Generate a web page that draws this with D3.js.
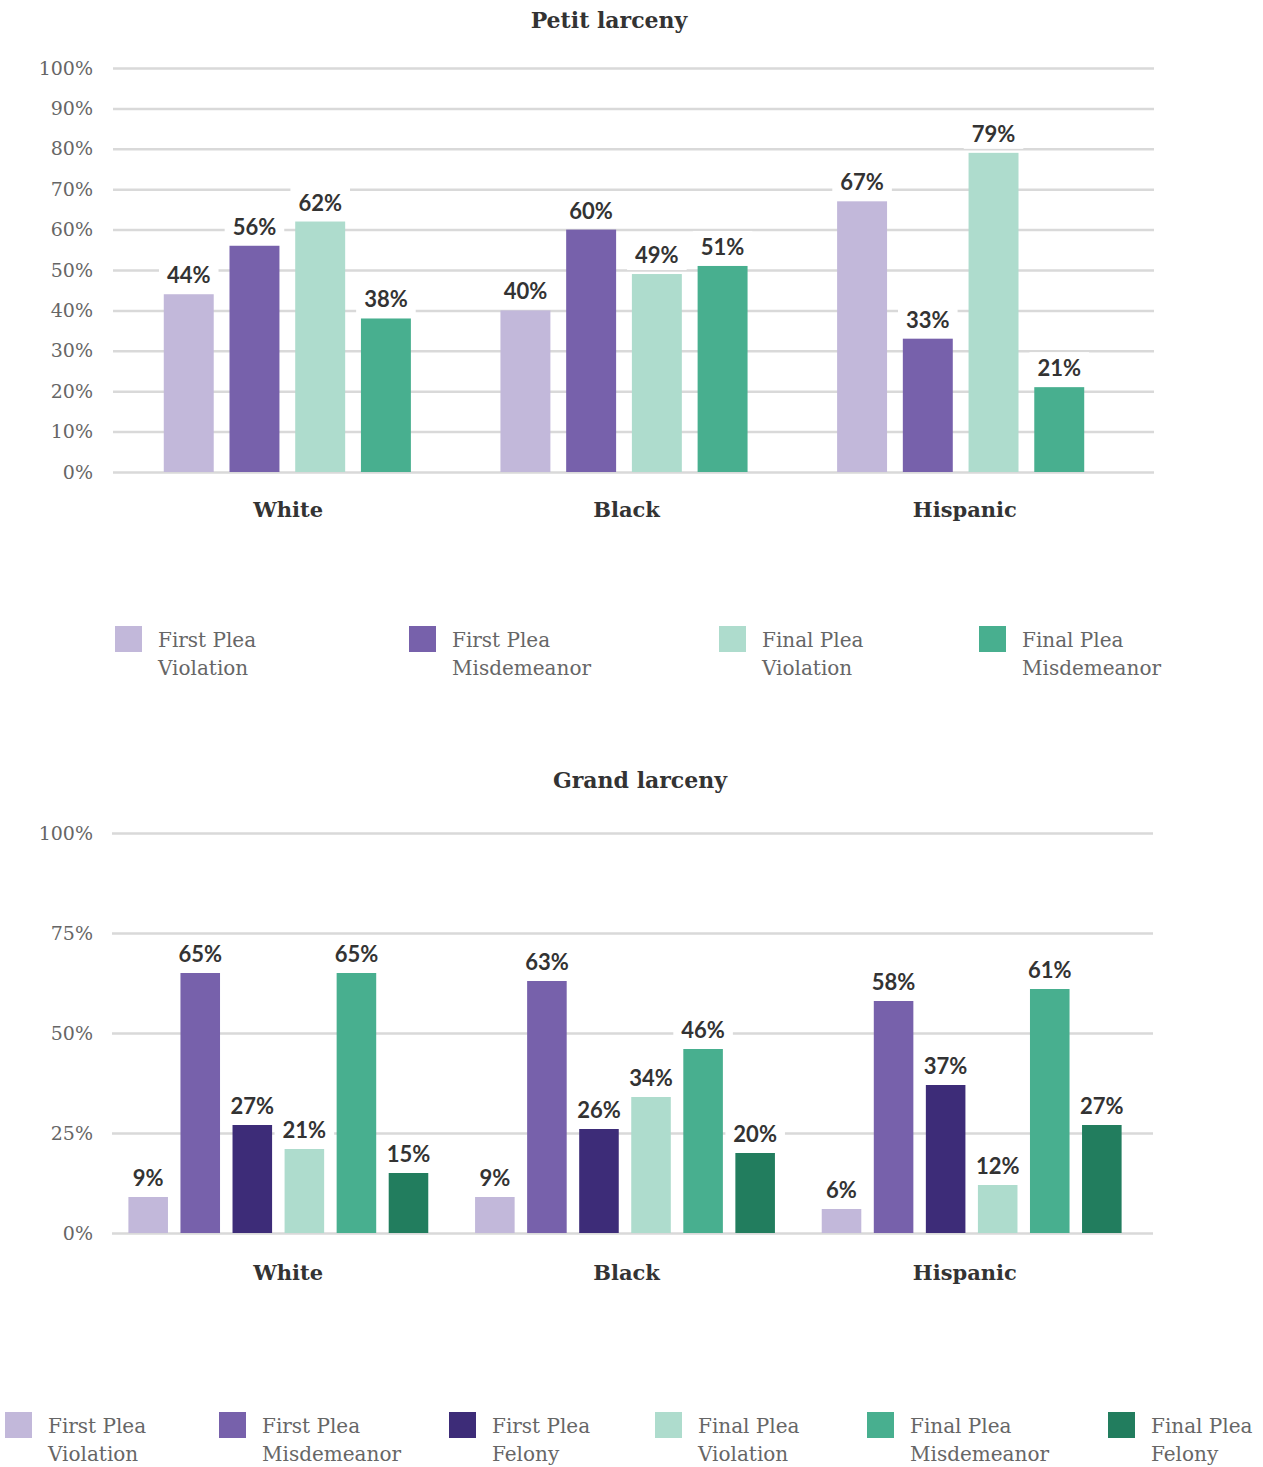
<!DOCTYPE html>
<html>
<head>
<meta charset="utf-8">
<script src="https://cdn.jsdelivr.net/npm/d3@7"></script>
<style>
  body { margin: 0; background: #fff; }
  svg { display: block; }
</style>
</head>
<body>
<svg id="chart"></svg>
<script>
// ---- Data ----
const races = ["White", "Black", "Hispanic"];

const petitSeries = ["First Plea Violation", "First Plea Misdemeanor", "Final Plea Violation", "Final Plea Misdemeanor"];
const petitWhite = [44, 56, 62, 38];
const petitBlack = [40, 60, 49, 51];
const petitHispanic = [67, 33, 79, 21];
const petitTicks = [0, 10, 20, 30, 40, 50, 60, 70, 80, 90, 100];

const grandSeries = ["First Plea Violation", "First Plea Misdemeanor", "First Plea Felony", "Final Plea Violation", "Final Plea Misdemeanor", "Final Plea Felony"];
const grandWhite = [9, 65, 27, 21, 65, 15];
const grandBlack = [9, 63, 26, 34, 46, 20];
const grandHispanic = [6, 58, 37, 12, 61, 27];
const grandTicks = [0, 25, 50, 75, 100];

const seriesColors = {
  "First Plea Violation": "#c2b8da",
  "First Plea Misdemeanor": "#7761ab",
  "First Plea Felony": "#3d2c78",
  "Final Plea Violation": "#aedccd",
  "Final Plea Misdemeanor": "#48af8f",
  "Final Plea Felony": "#227d5e"
};

// ---- Setup ----
const W = 1263, H = 1467;
const svg = d3.select("#chart").attr("width", W).attr("height", H);

const SERIF = "'DejaVu Serif', 'Liberation Serif', serif";
const SANS = "Lato, 'Open Sans', sans-serif";

// Race labels sit at the same horizontal positions in both panels
const raceLabelX = d3.scaleBand().domain(races).range([119, 1134])
  .paddingInner(0.266).paddingOuter(0.133);

function drawChart(opt) {
  const g = svg.append("g");
  const rows = races.map((r, i) => ({ race: r, values: opt.rows[i] }));

  const y = d3.scaleLinear().domain([0, 100]).range(opt.yRange);
  const x0 = d3.scaleBand().domain(races).range(opt.bandRange)
    .paddingInner(opt.padIn).paddingOuter(opt.padOut);
  const x1 = d3.scaleBand().domain(opt.series).range([0, x0.bandwidth()])
    .paddingInner(0.24).paddingOuter(0);

  // Title
  g.append("text")
    .attr("x", opt.titleX).attr("y", opt.titleY)
    .attr("text-anchor", "middle")
    .attr("font-family", SERIF).attr("font-weight", "bold")
    .attr("font-size", 22).attr("fill", "#333")
    .text(opt.title);

  // Gridlines + tick labels via a left axis
  const axis = d3.axisLeft(y).tickValues(opt.ticks)
    .tickFormat(d => d + "%")
    .tickSize(-(opt.gridX[1] - opt.gridX[0]))
    .tickPadding(opt.gridX[0] - 93);
  const ax = g.append("g")
    .attr("transform", `translate(${opt.gridX[0]},0)`)
    .call(axis);
  ax.select(".domain").remove();
  ax.selectAll(".tick line")
    .attr("stroke", "#d9d9d9").attr("stroke-width", 2.5);
  ax.selectAll(".tick text")
    .attr("font-family", SERIF).attr("font-size", 19)
    .attr("fill", "#666");

  const boxLayer = g.append("g");
  const barLayer = g.append("g");
  const labelLayer = g.append("g");

  const flat = [];
  rows.forEach(row => row.values.forEach((v, i) =>
    flat.push({ race: row.race, key: opt.series[i], value: v })));

  barLayer.selectAll("rect").data(flat).join("rect")
    .attr("x", d => x0(d.race) + x1(d.key))
    .attr("y", d => y(d.value))
    .attr("width", x1.bandwidth())
    .attr("height", d => y(0) - y(d.value))
    .attr("fill", d => seriesColors[d.key]);

  const labels = labelLayer.selectAll("text").data(flat).join("text")
    .attr("x", d => x0(d.race) + x1(d.key) + x1.bandwidth() / 2)
    .attr("y", d => y(d.value) - 11)
    .attr("text-anchor", "middle")
    .attr("font-family", SANS).attr("font-weight", "bold")
    .attr("font-size", 22).attr("fill", "#333")
    .text(d => d.value + "%");

  // White plates behind value labels so gridlines break around them
  labels.each(function () {
    const b = this.getBBox();
    boxLayer.append("rect")
      .attr("x", b.x - 8).attr("y", b.y - 2)
      .attr("width", b.width + 16).attr("height", b.height + 4)
      .attr("fill", "#fff");
  });

  // Race category labels
  g.append("g").selectAll("text").data(races).join("text")
    .attr("x", d => raceLabelX(d) + raceLabelX.bandwidth() / 2)
    .attr("y", opt.catY)
    .attr("text-anchor", "middle")
    .attr("font-family", SERIF).attr("font-weight", "bold")
    .attr("font-size", 21).attr("fill", "#333")
    .text(d => d);

  // Legend
  const leg = g.append("g").selectAll("g").data(opt.series).join("g")
    .attr("transform", (d, i) => `translate(${opt.legendXs[i]},${opt.legendY})`);
  leg.append("rect")
    .attr("width", 27).attr("height", 26)
    .attr("fill", d => seriesColors[d]);
  leg.append("text")
    .attr("x", 43).attr("y", 21)
    .attr("font-family", SERIF).attr("font-size", 20).attr("fill", "#666")
    .text(d => d.split(" ").slice(0, 2).join(" "));
  leg.append("text")
    .attr("x", 43).attr("y", 49)
    .attr("font-family", SERIF).attr("font-size", 20).attr("fill", "#666")
    .text(d => d.split(" ").slice(2).join(" "));
}

drawChart({
  title: "Petit larceny", titleX: 609, titleY: 28,
  series: petitSeries,
  rows: [petitWhite, petitBlack, petitHispanic],
  ticks: petitTicks,
  yRange: [472, 68], gridX: [113, 1154],
  bandRange: [119, 1129], padIn: 0.266, padOut: 0.133,
  catY: 517,
  legendY: 626, legendXs: [115, 409, 719, 979]
});

drawChart({
  title: "Grand larceny", titleX: 640, titleY: 788,
  series: grandSeries,
  rows: [grandWhite, grandBlack, grandHispanic],
  ticks: grandTicks,
  yRange: [1233, 833], gridX: [112, 1153],
  bandRange: [105, 1145], padIn: 0.135, padOut: 0.0675,
  catY: 1280,
  legendY: 1412, legendXs: [5, 219, 449, 655, 867, 1108]
});
</script>
</body>
</html>
